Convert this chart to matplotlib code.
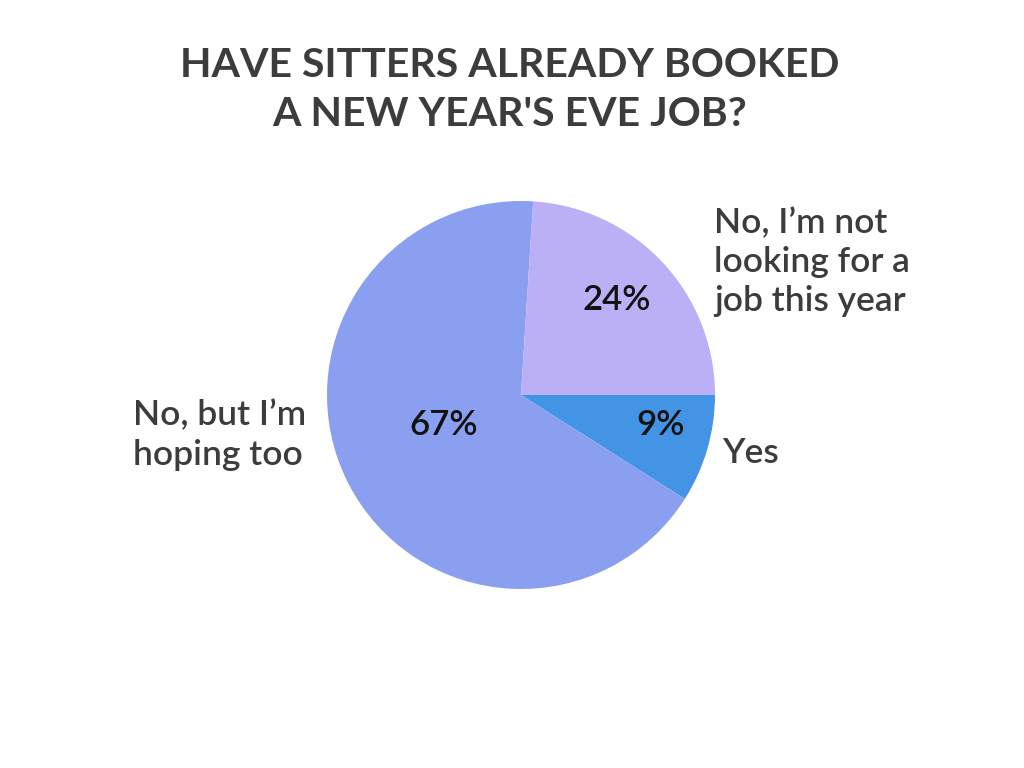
import matplotlib
matplotlib.use("Agg")
import matplotlib.pyplot as plt

plt.rcParams["font.family"] = ["Lato", "DejaVu Sans"]

categories = ["Yes", "No, but I\u2019m\nhoping too", "No, I\u2019m not\nlooking for a\njob this year"]
shares = [9, 67, 24]
colors = ["#4494e6", "#8a9ff0", "#bbb0f5"]
title = "HAVE SITTERS ALREADY BOOKED\nA NEW YEAR'S EVE JOB?"

text_col = "#3c3c3c"

fig = plt.figure(figsize=(10.24, 7.68), dpi=100)
fig.patch.set_facecolor("white")
# axes in pixel units, y up
ax = fig.add_axes([0, 0, 1, 1])

cx, cy, r = 521, 768 - 395, 194
ax.pie(shares, colors=colors, startangle=0, counterclock=False,
       center=(cx, cy), radius=r, frame=True,
       wedgeprops=dict(linewidth=0))
ax.set_xlim(0, 1024)
ax.set_ylim(0, 768)
ax.set_aspect("equal")
ax.axis("off")

# percentage labels inside the slices
pct_pos = [(661, 425), (444, 425), (617, 300)]
for s, (px, py) in zip(shares, pct_pos):
    ax.text(px, 768 - py, f"{s}%", ha="center", va="center",
            fontsize=25, fontweight="semibold", color="#111111")

# category labels outside
lab_pos = [(722, 453, "left"), (306, 435, "right"), (714, 262, "left")]
for name, (lx, ly, ha) in zip(categories, lab_pos):
    ax.text(lx, 768 - ly, name, ha=ha, va="center", multialignment="left",
            fontsize=25.5, fontweight="semibold", color=text_col,
            linespacing=1.28)

ax.text(510, 768 - 90, title, ha="center", va="center", fontsize=29.5,
        fontweight="bold", color=text_col, linespacing=1.4)

fig.savefig("out.png", dpi=100, facecolor="white")
